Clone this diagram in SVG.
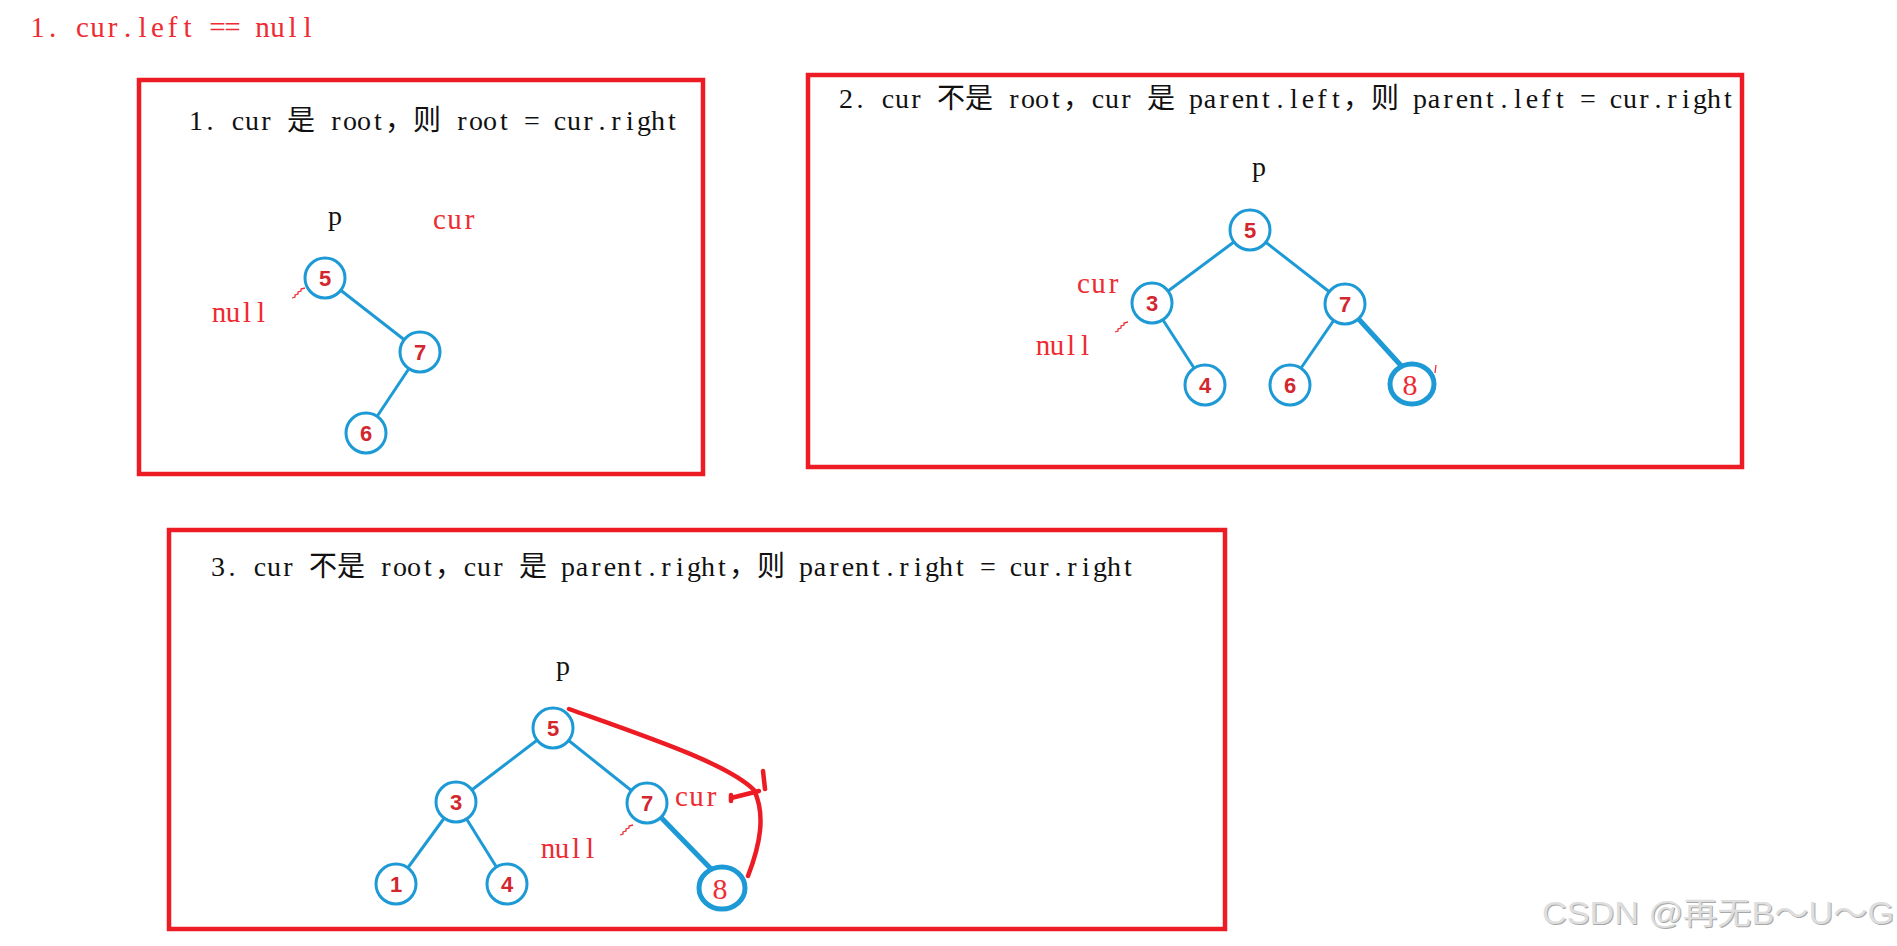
<svg xmlns="http://www.w3.org/2000/svg" width="1897" height="946" viewBox="0 0 1897 946">
<style>
.frame{fill:none;stroke:#ed1c24;stroke-width:4.5}
.hdr{font-family:"Liberation Serif","Noto Sans CJK SC",serif;font-size:28px;fill:#111;text-anchor:middle}
.red{font-family:"Liberation Serif","Noto Sans CJK SC",serif;font-size:29px;fill:#ee2b33;text-anchor:middle}
.lbl{font-family:"Liberation Serif",serif;font-size:28px;fill:#111}
.nc{fill:#fff;stroke:#1d9ad6;stroke-width:3}
.nc8{fill:#fff;stroke:#1d9ad6;stroke-width:5}
.nt{font-family:"Liberation Sans",sans-serif;font-weight:bold;font-size:22px;fill:#d3272f;text-anchor:middle}
.nt8{font-family:"Liberation Serif",serif;font-size:30px;fill:#ee2b33;text-anchor:middle}
.e{stroke:#1d9ad6;stroke-width:3;fill:none}
.e8{stroke:#1d9ad6;stroke-width:5;fill:none}
.rc{stroke:#ed1c24;stroke-width:4.5;fill:none;stroke-linecap:round}
.sq{stroke:#ee2b33;stroke-width:1.3;fill:none}
.wm{font-family:"Liberation Sans","Noto Sans CJK SC",sans-serif;font-size:31px}
</style>
<rect width="1897" height="946" fill="#fff"/>

<text class="red" font-size="30" y="37" x="37.5 52.5 67.5 82.5 97.5 112.5 127.5 142.5 157.5 172.5 187.5 202.5 217.5 232.5 247.5 262.5 277.5 292.5 307.5">1. cur.left == null</text>

<g id="frame1">
<rect class="frame" x="139" y="80" width="564" height="394"/>
<text class="hdr" y="130" x="196 210 224 238 252 266 280 301 322 336 350 364 378 399 427 448 462 476 490 504 518 532 546 560 574 588 602 616 630 644 658 672">1. cur 是 root，则 root = cur.right</text>
<text class="lbl" x="328" y="225">p</text>
<text class="red" y="229" x="439.5 454.5 469.5">cur</text>
<text class="red" y="322" x="219 233 247 261">null</text>
</g>

<g id="frame2">
<rect class="frame" x="808" y="75" width="934" height="392"/>
<text class="hdr" y="108" x="846 860 874 888 902 916 930 951 979 1000 1014 1028 1042 1056 1077 1098 1112 1126 1140 1161 1182 1196 1210 1224 1238 1252 1266 1280 1294 1308 1322 1336 1357 1385 1406 1420 1434 1448 1462 1476 1490 1504 1518 1532 1546 1560 1574 1588 1602 1616 1630 1644 1658 1672 1686 1700 1714 1728">2. cur 不是 root，cur 是 parent.left，则 parent.left = cur.right</text>
<text class="lbl" x="1252" y="176">p</text>
<text class="red" y="293" x="1083.5 1098.5 1113.5">cur</text>
<text class="red" y="355" x="1043 1057 1071 1085">null</text>
</g>

<g id="frame3">
<rect class="frame" x="169" y="530" width="1056" height="399"/>
<text class="hdr" y="576" x="218 232 246 260 274 288 302 323 351 372 386 400 414 428 449 470 484 498 512 533 554 568 582 596 610 624 638 652 666 680 694 708 722 743 771 792 806 820 834 848 862 876 890 904 918 932 946 960 974 988 1002 1016 1030 1044 1058 1072 1086 1100 1114 1128">3. cur 不是 root，cur 是 parent.right，则 parent.right = cur.right</text>
<text class="lbl" x="556" y="675">p</text>
<text class="red" y="806" x="681.5 696.5 711.5">cur</text>
<text class="red" y="858" x="548 562 576 590">null</text>
</g>

<g id="connectors">
<line class="e" x1="325" y1="278" x2="420" y2="352"/>
<line class="e" x1="420" y1="352" x2="366" y2="433"/>

<line class="e" x1="1250" y1="230" x2="1152" y2="303"/>
<line class="e" x1="1250" y1="230" x2="1345" y2="304"/>
<line class="e" x1="1152" y1="303" x2="1205" y2="385"/>
<line class="e" x1="1345" y1="304" x2="1299" y2="371"/>
<line class="e8" x1="1345" y1="304" x2="1405" y2="370"/>

<line class="e" x1="553" y1="728" x2="456" y2="802"/>
<line class="e" x1="553" y1="728" x2="647" y2="803"/>
<line class="e" x1="456" y1="802" x2="396" y2="884"/>
<line class="e" x1="456" y1="802" x2="507" y2="884"/>
<line class="e8" x1="647" y1="803" x2="714" y2="872"/>

<path class="sq" d="M292,298 l3,-1 l0,-2 l3,-1 l0,-2 l3,-1 l0,-2 l4,-1"/>
<path class="sq" d="M1115,332 l3,-1 l0,-2 l3,-1 l0,-2 l3,-1 l0,-2 l4,-1"/>
<path class="sq" d="M620,835 l3,-1 l0,-2 l3,-1 l0,-2 l3,-1 l0,-2 l4,-1"/>
<path class="sq" d="M1436,365 l-1,8"/>
</g>

<g id="n1-5"><circle class="nc" cx="325" cy="278" r="20"/><text class="nt" x="325" y="286">5</text></g>
<g id="n1-7"><circle class="nc" cx="420" cy="352" r="20"/><text class="nt" x="420" y="360">7</text></g>
<g id="n1-6"><circle class="nc" cx="366" cy="433" r="20"/><text class="nt" x="366" y="441">6</text></g>

<g id="n2-5"><circle class="nc" cx="1250" cy="230" r="20"/><text class="nt" x="1250" y="238">5</text></g>
<g id="n2-3"><circle class="nc" cx="1152" cy="303" r="20"/><text class="nt" x="1152" y="311">3</text></g>
<g id="n2-7"><circle class="nc" cx="1345" cy="304" r="20"/><text class="nt" x="1345" y="312">7</text></g>
<g id="n2-4"><circle class="nc" cx="1205" cy="385" r="20"/><text class="nt" x="1205" y="393">4</text></g>
<g id="n2-6"><circle class="nc" cx="1290" cy="385" r="20"/><text class="nt" x="1290" y="393">6</text></g>
<g id="n2-8"><ellipse class="nc8" cx="1412" cy="384" rx="22" ry="20"/><text class="nt8" x="1410" y="395">8</text></g>

<g id="n3-5"><circle class="nc" cx="553" cy="728" r="20"/><text class="nt" x="553" y="736">5</text></g>
<g id="n3-3"><circle class="nc" cx="456" cy="802" r="20"/><text class="nt" x="456" y="810">3</text></g>
<g id="n3-7"><circle class="nc" cx="647" cy="803" r="20"/><text class="nt" x="647" y="811">7</text></g>
<g id="n3-1"><circle class="nc" cx="396" cy="884" r="20"/><text class="nt" x="396" y="892">1</text></g>
<g id="n3-4"><circle class="nc" cx="507" cy="884" r="20"/><text class="nt" x="507" y="892">4</text></g>
<g id="n3-8"><ellipse class="nc8" cx="722" cy="888" rx="23" ry="21"/><text class="nt8" x="720" y="899">8</text></g>

<g id="redlink">
<path class="rc" d="M569,709 C650,738 728,764 754,790 C766,815 760,845 748,876"/>
<path class="rc" d="M763,771 L765,789" stroke-width="3.5"/>
<path class="rc" d="M731,798 L759,791" stroke-width="3.5"/>
<path class="rc" d="M731,795 L731,801" stroke-width="3"/>
</g>

<g id="watermark">
<text class="wm" x="1543" y="925" fill="#a8a8a8" textLength="352" lengthAdjust="spacingAndGlyphs">CSDN @再无B～U～G</text>
<text class="wm" x="1542" y="924" fill="#dedede" textLength="352" lengthAdjust="spacingAndGlyphs">CSDN @再无B～U～G</text>
</g>
</svg>
